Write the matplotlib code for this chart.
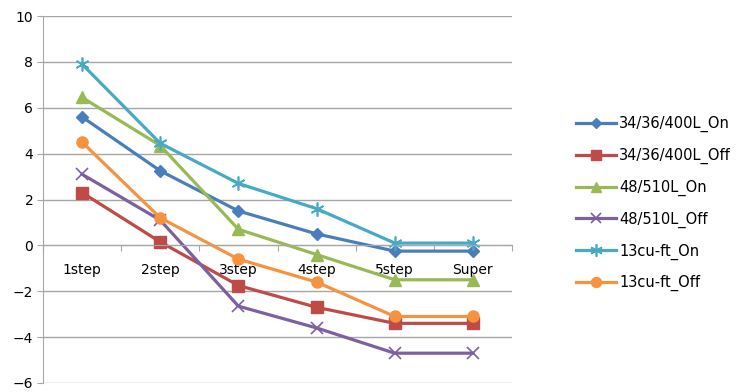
import matplotlib
matplotlib.use("Agg")
import matplotlib.pyplot as plt
import numpy as np

categories = ["1step", "2step", "3step", "4step", "5step", "Super"]
s_34_on = [5.6, 3.25, 1.5, 0.5, -0.25, -0.25]
s_34_off = [2.3, 0.15, -1.75, -2.7, -3.4, -3.4]
s_48_on = [6.45, 4.35, 0.7, -0.4, -1.5, -1.5]
s_48_off = [3.1, 1.1, -2.65, -3.6, -4.7, -4.7]
s_13_on = [7.9, 4.45, 2.7, 1.6, 0.1, 0.1]
s_13_off = [4.5, 1.2, -0.6, -1.6, -3.1, -3.1]
series_names = ["34/36/400L_On", "34/36/400L_Off", "48/510L_On",
                "48/510L_Off", "13cu-ft_On", "13cu-ft_Off"]
y_ticks = [-6, -4, -2, 0, 2, 4, 6, 8, 10]

plt.rcParams['font.family'] = ['DejaVu Sans']
fig = plt.figure(figsize=(7.47, 3.92), dpi=100)
ax = fig.add_axes([43/747, 1-383/392, (512-43)/747, (383-16)/392])

styles = [
    dict(color="#4A7EBB", marker="D", ms=6),
    dict(color="#BE4B48", marker="s", ms=8),
    dict(color="#98B954", marker="^", ms=8),
    dict(color="#7D60A0", marker="x", ms=8, mew=1.2),
    dict(color="#46AAC5", marker=(6, 2, 0), ms=10, mew=1.2),
    dict(color="#F69240", marker="o", ms=8),
]
data = [s_34_on, s_34_off, s_48_on, s_48_off, s_13_on, s_13_off]
x = list(range(len(categories)))
for vals, name, st in zip(data, series_names, styles):
    ax.plot(x, vals, lw=2.3, label=name, **st)

ax.set_xlim(-0.5, len(categories) - 0.5)
ax.set_ylim(-6, 10)
ax.set_yticks(y_ticks)
ax.yaxis.grid(True, color="#A6A6A6", lw=1)
ax.set_axisbelow(True)
for s in ["top", "right"]:
    ax.spines[s].set_visible(False)
ax.spines["left"].set_color("#A6A6A6")
ax.spines["bottom"].set_color("#A6A6A6")
ax.spines["bottom"].set_position(("data", 0))
ax.tick_params(axis="y", length=4, color="#A6A6A6", labelsize=10, pad=3)

ax.set_xticks(np.arange(-0.5, len(categories), 1.0))
ax.set_xticklabels([])
ax.set_xticks(x, minor=True)
ax.set_xticklabels(categories, minor=True)
ax.tick_params(axis="x", which="major", length=4, color="#A6A6A6", direction="out")
ax.tick_params(axis="x", which="minor", length=0, labelsize=10, pad=13)

fig.legend(loc="upper left", bbox_to_anchor=(563/747, 1-103/392), frameon=False,
           fontsize=10.5, handlelength=2.7, labelspacing=1.07, handletextpad=0.25,
           markerscale=0.9)

fig.savefig("out.png", dpi=100)
